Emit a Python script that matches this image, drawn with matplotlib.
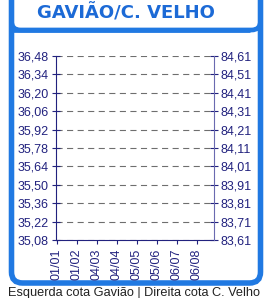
import matplotlib
matplotlib.use("Agg")
import matplotlib.pyplot as plt
from matplotlib.patches import FancyBboxPatch
import numpy as np

title = "GAVIÃO/C. VELHO"
caption = "Esquerda cota Gavião | Direita cota C. Velho"
dates = ["01/01", "01/02", "04/03", "04/04", "05/05", "05/06", "06/07", "06/08"]
left_ticks = [35.08, 35.22, 35.36, 35.50, 35.64, 35.78, 35.92, 36.06, 36.20, 36.34, 36.48]
right_ticks = [83.61, 83.71, 83.81, 83.91, 84.01, 84.11, 84.21, 84.31, 84.41, 84.51, 84.61]

W, H = 264, 298
blue = "#2079e2"
navy = "#22227e"

fig = plt.figure(figsize=(W / 100, H / 100), dpi=100)
fig.patch.set_facecolor("white")


def fx(px):
    return px / W


def fy(py):
    return 1 - py / H


# overlay in pixel units for the blue frame
bg = fig.add_axes([0, 0, 1, 1])
bg.set_xlim(0, W)
bg.set_ylim(H, 0)
bg.axis("off")
bg.add_patch(FancyBboxPatch((11.5, -20), 249, 303, boxstyle="round,pad=0,rounding_size=11",
                            fill=False, edgecolor=blue, linewidth=4))
bg.add_patch(FancyBboxPatch((11.5, -20), 249, 50, boxstyle="round,pad=0,rounding_size=9",
                            fill=False, edgecolor=blue, linewidth=3.4))
bg.plot([11.5, 250], [30, 30], color=blue, linewidth=3.4, solid_capstyle="butt")

bg.text(126, 13, title, ha="center", va="center",
        fontsize=13, fontweight="bold", color="#1c6ad6", family="DejaVu Sans")
bg.text(8, 293, caption, ha="left", va="center",
        fontsize=9.2, color="#222222", family="Liberation Sans")

ax = fig.add_axes([fx(56), fy(240), fx(214) - fx(56), (240 - 56) / H])
x = np.arange(len(dates))
ax.set_xlim(-0.05, 7.85)
ax.set_ylim(left_ticks[0], left_ticks[-1])
ax.set_xticks(x)
ax.set_xticklabels(dates, rotation=90, fontsize=9, color=navy, family="Liberation Sans")
ax.set_yticks(left_ticks)
ax.set_yticklabels([f"{v:.2f}".replace(".", ",") for v in left_ticks],
                   fontsize=9, color=navy, family="Liberation Sans")
ax.tick_params(axis="y", direction="inout", length=6, color=navy, pad=2)
ax.tick_params(axis="x", direction="out", length=3, color=navy, pad=3)
ax.grid(axis="y", color="#6e6e6e", linestyle=(0, (5.5, 4)), linewidth=0.8)
ax.spines["top"].set_visible(False)
ax.spines["right"].set_visible(False)
ax.spines["left"].set_color(navy)
ax.spines["bottom"].set_color(navy)

ax2 = ax.twinx()
ax2.set_ylim(right_ticks[0], right_ticks[-1])
ax2.set_yticks(right_ticks)
ax2.set_yticklabels([f"{v:.2f}".replace(".", ",") for v in right_ticks],
                    fontsize=9, color=navy, family="Liberation Sans")
ax2.tick_params(axis="y", direction="inout", length=6, color=navy, pad=2)
ax2.spines["right"].set_color("#6a6ab0")
ax2.spines["top"].set_visible(False)
ax2.spines["left"].set_visible(False)
ax2.spines["bottom"].set_visible(False)

fig.savefig("out.png", dpi=100)
